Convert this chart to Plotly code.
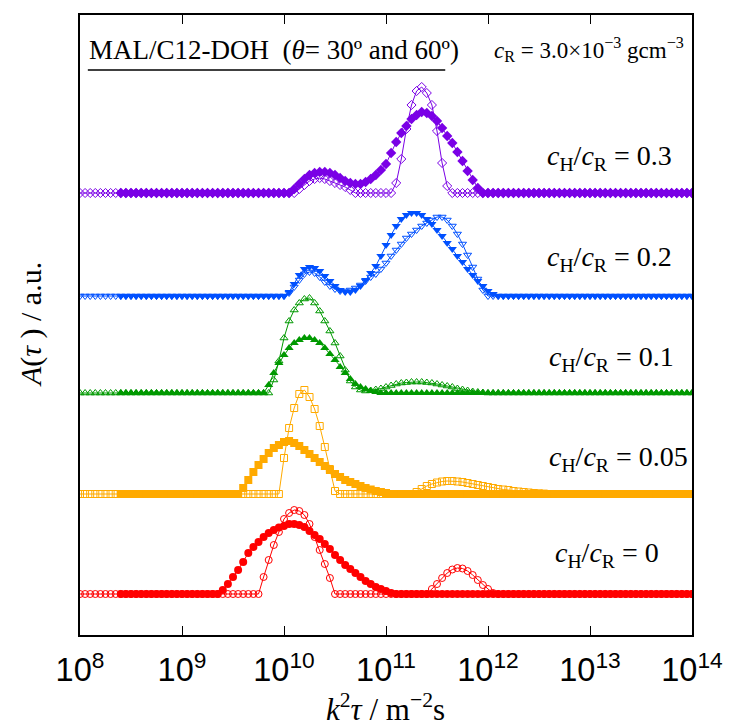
import numpy as np
import plotly.graph_objects as go

STEP = 0.05
LOG_MAX = 14.0
OPEN_START = 8.0
FILLED_START = 8.4

group_labels = ["0", "0.05", "0.1", "0.2", "0.3"]
offsets = [0.0, 1.0, 2.01, 2.98, 4.01]
colors = ["#ff0000", "#ffaa00", "#009900", "#0050ff", "#7a00e6"]
symbols = ["circle", "square", "triangle-up", "triangle-down", "diamond"]

# segments: (start log10(k^2 tau), amplitudes on a 0.05-decade grid)
red_filled = [(9.35, [0.0, 0.04, 0.10, 0.17, 0.24, 0.32, 0.41, 0.47, 0.52, 0.57, 0.61, 0.64, 0.665,
                      0.68, 0.70, 0.70, 0.69, 0.67, 0.63, 0.59, 0.55, 0.50, 0.45, 0.39, 0.34, 0.29,
                      0.25, 0.21, 0.17, 0.13, 0.10, 0.07, 0.05, 0.03, 0.01, 0.0])]
red_open = [(9.75, [0.0, 0.17, 0.34, 0.49, 0.62, 0.75, 0.81, 0.84, 0.83, 0.79, 0.70, 0.57, 0.44,
                    0.30, 0.16, 0.0]),
            (11.40, [0.0, 0.05, 0.10, 0.16, 0.21, 0.245, 0.26, 0.255, 0.23, 0.19, 0.14, 0.09, 0.05,
                     0.01, 0.0])]

orange_filled = [(9.55, [0.0, 0.06, 0.14, 0.22, 0.29, 0.35, 0.41, 0.46, 0.49, 0.52, 0.53, 0.51, 0.48,
                         0.44, 0.40, 0.36, 0.32, 0.28, 0.24, 0.20, 0.17, 0.14, 0.12, 0.10, 0.08, 0.06,
                         0.045, 0.03, 0.02, 0.01, 0.0])]
orange_open = [(9.95, [0.0, 0.36, 0.66, 0.86, 1.00, 1.04, 0.97, 0.85, 0.68, 0.47, 0.25, 0.03, 0.0]),
               (11.25, [0.0, 0.02, 0.05, 0.08, 0.10, 0.115, 0.125, 0.13, 0.13, 0.125, 0.12, 0.11, 0.10,
                        0.09, 0.08, 0.07, 0.06, 0.05, 0.045, 0.04, 0.03, 0.025, 0.02, 0.015, 0.01,
                        0.007, 0.004, 0.0])]

green_filled = [(9.80, [0.0, 0.08, 0.20, 0.30, 0.38, 0.45, 0.50, 0.53, 0.55, 0.55, 0.53, 0.50, 0.45,
                        0.39, 0.33, 0.26, 0.20, 0.14, 0.09, 0.06, 0.04, 0.02, 0.01, 0.0])]
green_open = [(9.85, [0.0, 0.13, 0.32, 0.55, 0.72, 0.83, 0.90, 0.94, 0.95, 0.90, 0.82, 0.72, 0.62,
                      0.50, 0.37, 0.23, 0.12, 0.06, 0.03, 0.02, 0.025, 0.035, 0.045, 0.06, 0.075,
                      0.09, 0.10, 0.105, 0.11, 0.11, 0.11, 0.105, 0.10, 0.09, 0.08, 0.07, 0.06,
                      0.045, 0.035, 0.025, 0.015, 0.01, 0.005, 0.0])]

blue_filled = [(10.00, [0.0, 0.04, 0.12, 0.21, 0.27, 0.29, 0.28, 0.25, 0.20, 0.15, 0.10, 0.06, 0.04,
                        0.04, 0.06, 0.10, 0.16, 0.23, 0.30, 0.40, 0.51, 0.61, 0.70, 0.77, 0.81, 0.83,
                        0.83, 0.81, 0.77, 0.72, 0.66, 0.60, 0.53, 0.47, 0.40, 0.34, 0.27, 0.21, 0.15,
                        0.10, 0.05, 0.02, 0.0])]
blue_open = [(10.00, [0.0, 0.03, 0.09, 0.16, 0.22, 0.24, 0.23, 0.19, 0.14, 0.10, 0.07, 0.05, 0.05,
                      0.06, 0.08, 0.11, 0.15, 0.19, 0.22, 0.27, 0.33, 0.40, 0.46, 0.52, 0.58, 0.62,
                      0.66, 0.70, 0.73, 0.76, 0.79, 0.79, 0.76, 0.70, 0.62, 0.52, 0.41, 0.29, 0.17,
                      0.06, 0.0])]

purple_filled = [(10.05, [0.0, 0.04, 0.09, 0.14, 0.18, 0.20, 0.21, 0.21, 0.20, 0.18, 0.15, 0.12, 0.10,
                          0.09, 0.09, 0.11, 0.14, 0.18, 0.23, 0.29, 0.40, 0.51, 0.60, 0.67, 0.74,
                          0.78, 0.81, 0.80, 0.77, 0.72, 0.65, 0.57, 0.50, 0.41, 0.32, 0.22, 0.13,
                          0.05, 0.0])]
purple_open = [(10.10, [0.0, 0.04, 0.08, 0.12, 0.14, 0.15, 0.14, 0.12, 0.10, 0.08, 0.06, 0.03, 0.0]),
               (11.05, [0.0, 0.10, 0.34, 0.64, 0.88, 1.02, 1.06, 1.00, 0.88, 0.62, 0.30, 0.07, 0.0])]

filled_series = [red_filled, orange_filled, green_filled, blue_filled, purple_filled]
open_series = [red_open, orange_open, green_open, blue_open, purple_open]

label_y_px = [554, 458, 358, 258, 158]
label_x_px = [563, 557, 557, 555, 555]


def make_grid(start):
    return np.round(np.arange(start, LOG_MAX + 1e-9, STEP), 2)


def build(grid, segments):
    y = np.zeros(len(grid))
    for start, vals in segments:
        i0 = int(round((start - grid[0]) / STEP))
        y[i0:i0 + len(vals)] = vals
    return y


grid_open = make_grid(OPEN_START)
grid_filled = make_grid(FILLED_START)

fig = go.Figure()
for k in range(5):
    yf = build(grid_filled, filled_series[k]) + offsets[k]
    fig.add_trace(go.Scatter(
        x=10 ** grid_filled, y=yf, mode="lines+markers",
        line=dict(color=colors[k], width=1),
        marker=dict(symbol=symbols[k], size=8, color=colors[k], line=dict(width=0)),
        hoverinfo="skip"))
    yo = build(grid_open, open_series[k]) + offsets[k]
    fig.add_trace(go.Scatter(
        x=10 ** grid_open, y=yo, mode="lines+markers",
        line=dict(color=colors[k], width=1),
        marker=dict(symbol=symbols[k] + "-open", size=7, color=colors[k], line=dict(width=1)),
        hoverinfo="skip"))

L, R, T, B = 80, 30, 15, 93
W, H = 735, 728
pw, ph = W - L - R, H - T - B


def px(xp):
    return (xp - L) / pw


def py(yp):
    return (H - B - yp) / ph


serif = "Liberation Serif"
annotations = [
    dict(text="MAL/C12-DOH\u00a0\u00a0(<i>θ</i>= 30º and 60º)", x=px(87), y=py(50),
         xanchor="left", yanchor="middle", font=dict(family=serif, size=27, color="black")),
    dict(text="<i>c</i><sub>R</sub> = 3.0×10<sup>−3</sup> gcm<sup>−3</sup>", x=px(699), y=py(50),
         xanchor="right", yanchor="middle", font=dict(family=serif, size=23, color="black")),
    dict(text="<i>A</i>(<i>τ</i> ) / a.u.", x=px(30), y=py(325), textangle=-90,
         xanchor="center", yanchor="middle", font=dict(family=serif, size=30, color="black")),
    dict(text="<i>k</i><sup>2</sup><i>τ</i> / m<sup>−2</sup>s", x=px(392), y=py(707),
         xanchor="center", yanchor="middle", font=dict(family=serif, size=31, color="black")),
]
for k in range(5):
    annotations.append(dict(
        text="<i>c</i><sub>H</sub>/<i>c</i><sub>R</sub> = " + group_labels[k],
        x=px(label_x_px[k]), y=py(label_y_px[k]), xanchor="left", yanchor="middle",
        font=dict(family=serif, size=28, color="black")))
for a in annotations:
    a.update(xref="paper", yref="paper", showarrow=False)

fig.update_layout(
    width=W, height=H, margin=dict(l=L, r=R, t=T, b=B),
    paper_bgcolor="white", plot_bgcolor="white", showlegend=False,
    annotations=annotations,
    shapes=[dict(type="line", xref="paper", yref="paper", x0=px(88), x1=px(453),
                 y0=py(70), y1=py(70), line=dict(color="black", width=1.5))],
)
fig.update_xaxes(type="log", range=[8, 14], dtick=1, exponentformat="power",
                 showgrid=False, zeroline=False, showline=True, linecolor="black", linewidth=1.5,
                 mirror="ticks", ticks="inside", ticklen=9, tickwidth=1.2, tickcolor="black",
                 ticklabelstandoff=7, ticklabeloverflow="allow",
                 tickfont=dict(family="Liberation Sans", size=26, color="black"))
fig.update_yaxes(range=[-0.41, 5.79], showgrid=False, zeroline=False, showticklabels=False,
                 showline=True, linecolor="black", linewidth=1.5, mirror=True, ticks="")

fig.write_html("out.html")
